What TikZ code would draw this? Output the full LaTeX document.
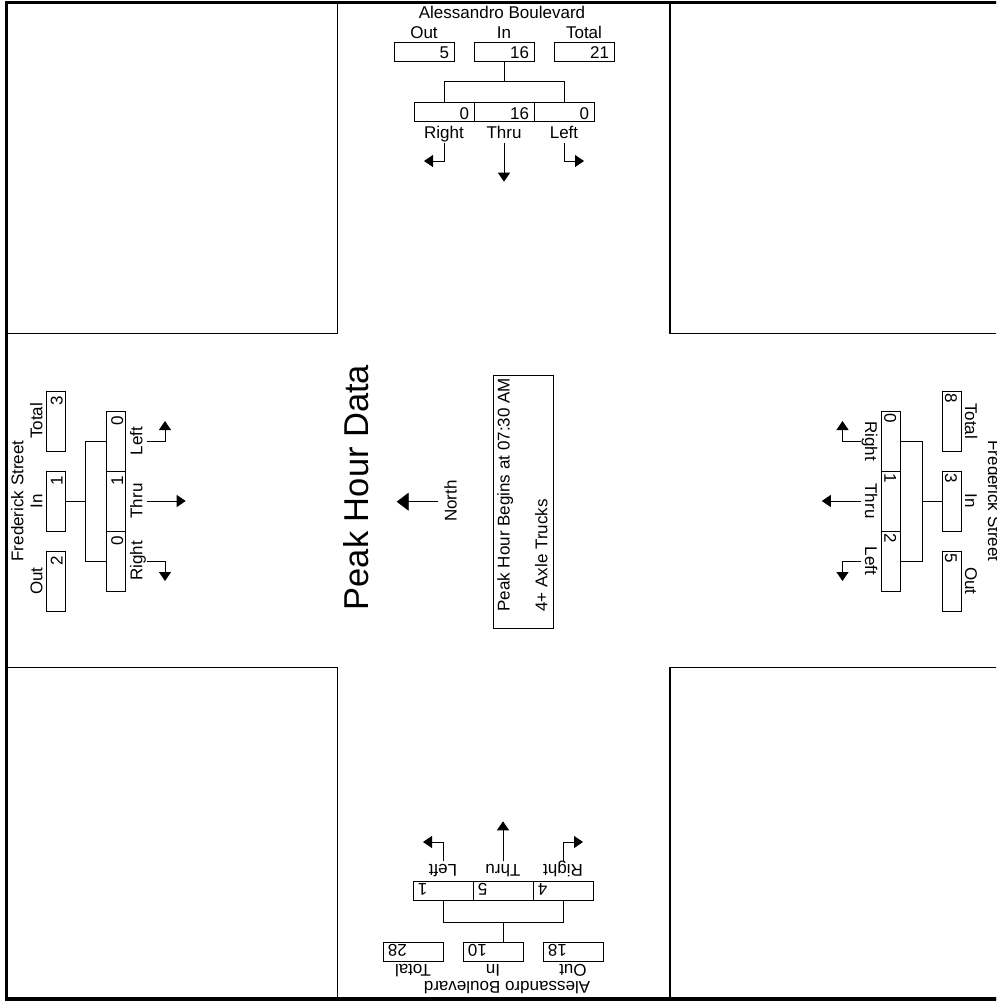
\documentclass[tikz,border=0pt]{standalone}
\usepackage{fontspec}
\setmainfont{Liberation Sans}
\usetikzlibrary{arrows.meta}
\newcommand\oitrow[7]{%
  \node[lab] (#1ol) at (#2,-35.8) {Out};
  \node[lab] (#1il) at (#3,-35.8) {In};
  \node[lab] (#1tl) at (#4,-35.8) {Total};
  \node[valbox] (#1o) at (#2,-49) {#5};
  \node[valbox] (#1i) at (#3,-49) {#6};
  \node[valbox] (#1t) at (#4,-49) {#7};
}
\newcommand\moves[4]{%
  \node[valbox] (#1r) at (-60,-109.7) {#2};
  \node[valbox] (#1h) at (0,-109.7) {#3};
  \node[valbox] (#1l) at (60,-109.7) {#4};
  \node[lab] (#1rl) at (-60,-135.8) {Right};
  \node[lab] (#1hl) at (0,-135.8) {Thru};
  \node[lab] (#1ll) at (60,-135.8) {Left};
  \coordinate (#1s) at (0,-58.5);
  \coordinate (#1b) at (0,-78.5);
  \draw[conn] (#1s) -- (#1b);
  \draw[conn] (#1r.north) -- (-60,-78.5) -- (60,-78.5) -- (#1l.north);
  \coordinate (#1ra) at (-60,-140);
  \coordinate (#1rt) at (-80,-158.5);
  \coordinate (#1ha) at (0,-140);
  \coordinate (#1ht) at (0,-179.2);
  \coordinate (#1la) at (60,-140);
  \coordinate (#1lt) at (80,-158.5);
  \draw[arr] (#1ra) -- (-60,-158.5) -- (#1rt);
  \draw[arr] (#1ha) -- (#1ht);
  \draw[arr] (#1la) -- (60,-158.5) -- (#1lt);
}
\begin{document}
\begin{tikzpicture}[x=1pt,y=1pt,
  lab/.style={font=\fontsize{17}{20}\selectfont, inner sep=0pt, anchor=base, transform shape},
  big/.style={font=\fontsize{34.5}{40}\selectfont, inner sep=0pt},
  valbox/.style={draw, line width=0.9pt, minimum width=60pt, minimum height=19pt,
    text width=50pt, align=right, inner xsep=5pt, inner ysep=0pt,
    text height=14pt, text depth=0pt,
    font=\fontsize{17}{20}\selectfont, transform shape},
  conn/.style={line width=0.9pt},
  arr/.style={line width=0.9pt, -{Triangle[length=9pt,width=12pt]}},
  quad/.style={line width=1.3pt},
  frame/.style={line width=3.3pt}]
\path[use as bounding box] (0,0) rectangle (996,-1001);
\clip (0,0) rectangle (996,-1001);
\fill[white] (0,0) rectangle (996,-1001);
% quadrants and frame
\draw[quad] (6.7,-2.7) rectangle (337.7,-333.7);
\draw[quad] (670,-2.7) rectangle (1001,-333.7);
\draw[quad] (6.7,-667.7) rectangle (337.7,-999);
\draw[quad] (670,-667.7) rectangle (1001,-999);
\draw[frame] (6.7,-2.7) rectangle (1001,-999);
% north approach
\begin{scope}[shift={(504,-2.5)}]
  \node[lab] (Nroad) at (-2,-15.8) {Alessandro Boulevard};
  \oitrow{N}{-80}{0}{80}{5}{16}{21}
  \moves{N}{0}{16}{0}
\end{scope}
% west approach
\begin{scope}[shift={(6.5,-501)}, rotate=90]
  \node[lab] (Wroad) at (0,-16.8) {Frederick Street};
  \oitrow{W}{-80}{0}{80}{2}{1}{3}
  \moves{W}{0}{1}{0}
\end{scope}
% east approach
\begin{scope}[shift={(1001,-501)}, rotate=-90,
    valbox/.append style={align=left, text width=56pt, inner xsep=2pt}]
  \node[lab] (Eroad) at (0,-13) {Frederick Street};
  \oitrow{E}{80}{0}{-80}{5}{3}{8}
  \moves{E}{0}{1}{2}
\end{scope}
% south approach
\begin{scope}[shift={(503,-1000.5)}, rotate=180]
  \node[lab] (Sroad) at (-4,-19) {Alessandro Boulevard};
  \oitrow{S}{-70}{10}{90}{18}{10}{28}
  \moves{S}{4}{5}{1}
\end{scope}
% centre
\node[big, rotate=90, anchor=base] (title) at (368.3,-487.5) {Peak Hour Data};
\coordinate (nA) at (438.3,-501.7);
\coordinate (nB) at (396.7,-501.7);
\draw[line width=0.9pt, -{Triangle[length=12pt,width=18pt]}] (nA) -- (nB);
\node[lab, rotate=90] (north) at (456.7,-501.2) {North};
\node[draw, line width=0.9pt, minimum width=60pt, minimum height=253.3pt, inner sep=0pt] (info) at (523.3,-501.65) {};
\node[lab, rotate=90, anchor=base west] (info1) at (509.5,-611.7) {Peak Hour Begins at 07:30 AM};
\node[lab, rotate=90, anchor=base west] (info2) at (547.3,-611.7) {4+ Axle Trucks};
\end{tikzpicture}
\end{document}
